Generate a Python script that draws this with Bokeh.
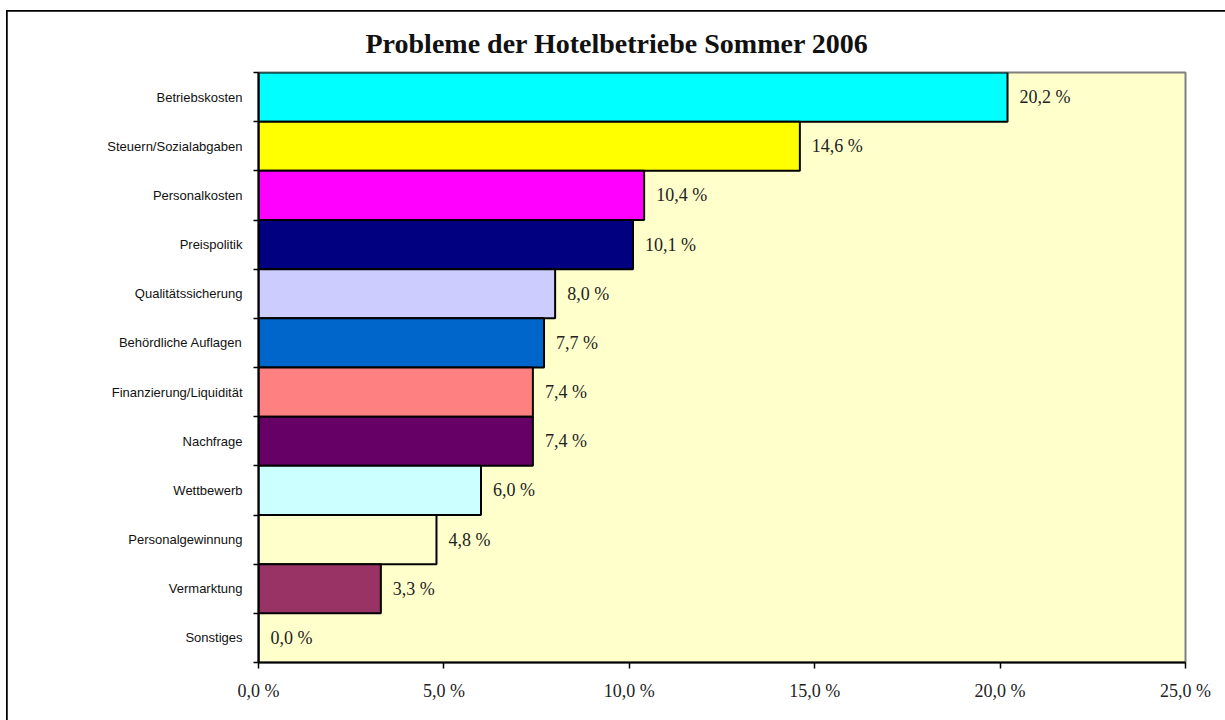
from bokeh.plotting import figure
from bokeh.models import FixedTicker, ColumnDataSource, Range1d
from bokeh.embed import file_html
from bokeh.resources import INLINE
from bokeh.core.properties import value

categories = ["Betriebskosten", "Steuern/Sozialabgaben", "Personalkosten", "Preispolitik",
              "Qualitätssicherung", "Behördliche Auflagen", "Finanzierung/Liquidität",
              "Nachfrage", "Wettbewerb", "Personalgewinnung", "Vermarktung", "Sonstiges"]
values = [20.2, 14.6, 10.4, 10.1, 8.0, 7.7, 7.4, 7.4, 6.0, 4.8, 3.3, 0.0]
colors = ["#00FFFF", "#FFFF00", "#FF00FF", "#000080", "#CCCCFF", "#0066CC",
          "#FF8080", "#660066", "#CCFFFF", "#FFFFCC", "#993366", "#FFFFCC"]
x_ticks = [0, 5, 10, 15, 20, 25]
x_tick_labels = ["0,0 %", "5,0 %", "10,0 %", "15,0 %", "20,0 %", "25,0 %"]

n = len(categories)
ys = [n - 0.5 - i for i in range(n)]
labels = [f"{v:.1f} %".replace(".", ",") for v in values]

src = ColumnDataSource(dict(y=ys, v=values, c=colors, lab=labels))

p = figure(width=1218, height=709, output_backend="svg", toolbar_location=None,
           x_range=Range1d(0, 25), y_range=Range1d(0, n),
           min_border_left=251, min_border_right=40, min_border_top=61, min_border_bottom=58)
p.styles = {"outline": "2px solid black", "outline-offset": "-1px",
            "margin-left": "7px", "margin-top": "11px"}

p.title.text = "Probleme der Hotelbetriebe Sommer 2006"
p.title.text_font = "Liberation Serif"
p.title.text_font_style = "bold"
p.title.text_font_size = "28px"
p.title.align = "left"
p.title.offset = 107
p.title.standoff = 28
p.title.text_color = "#111111"

p.background_fill_color = "#FFFFCC"
p.border_fill_color = "white"
p.outline_line_color = "#808080"
p.outline_line_width = 2
p.xgrid.visible = False
p.ygrid.visible = False

p.hbar(y="y", left=0, right="v", height=1.0, fill_color="c", line_color="black",
       line_width=2, source=src)
p.text(x="v", y="y", text="lab", x_offset=12, text_baseline="middle",
       text_font=value("Liberation Serif"), text_font_size="18px", text_color="#222222",
       source=src)

# y axis
ya = p.yaxis[0]
ya.ticker = FixedTicker(ticks=ys, minor_ticks=list(range(n + 1)))
ya.major_label_overrides = {y: c for y, c in zip(ys, categories)}
ya.major_tick_out = 0
ya.major_tick_in = 0
ya.minor_tick_out = 5
ya.minor_tick_in = 0
ya.minor_tick_line_color = "black"
ya.minor_tick_line_width = 1.5
ya.axis_line_color = "black"
ya.axis_line_width = 2
ya.major_label_standoff = 11
ya.major_label_text_font = "Liberation Sans"
ya.major_label_text_font_size = "13px"
ya.major_label_text_color = "#111111"

# x axis
xa = p.xaxis[0]
xa.ticker = FixedTicker(ticks=x_ticks, minor_ticks=[])
xa.major_label_overrides = {t: l for t, l in zip(x_ticks, x_tick_labels)}
xa.major_tick_out = 6
xa.major_tick_in = 0
xa.major_tick_line_color = "black"
xa.major_tick_line_width = 1.5
xa.axis_line_color = "black"
xa.axis_line_width = 2
xa.major_label_standoff = 12
xa.major_label_text_font = "Liberation Serif"
xa.major_label_text_font_size = "18px"
xa.major_label_text_color = "#222222"

open("out.html", "w").write(file_html(p, INLINE))
